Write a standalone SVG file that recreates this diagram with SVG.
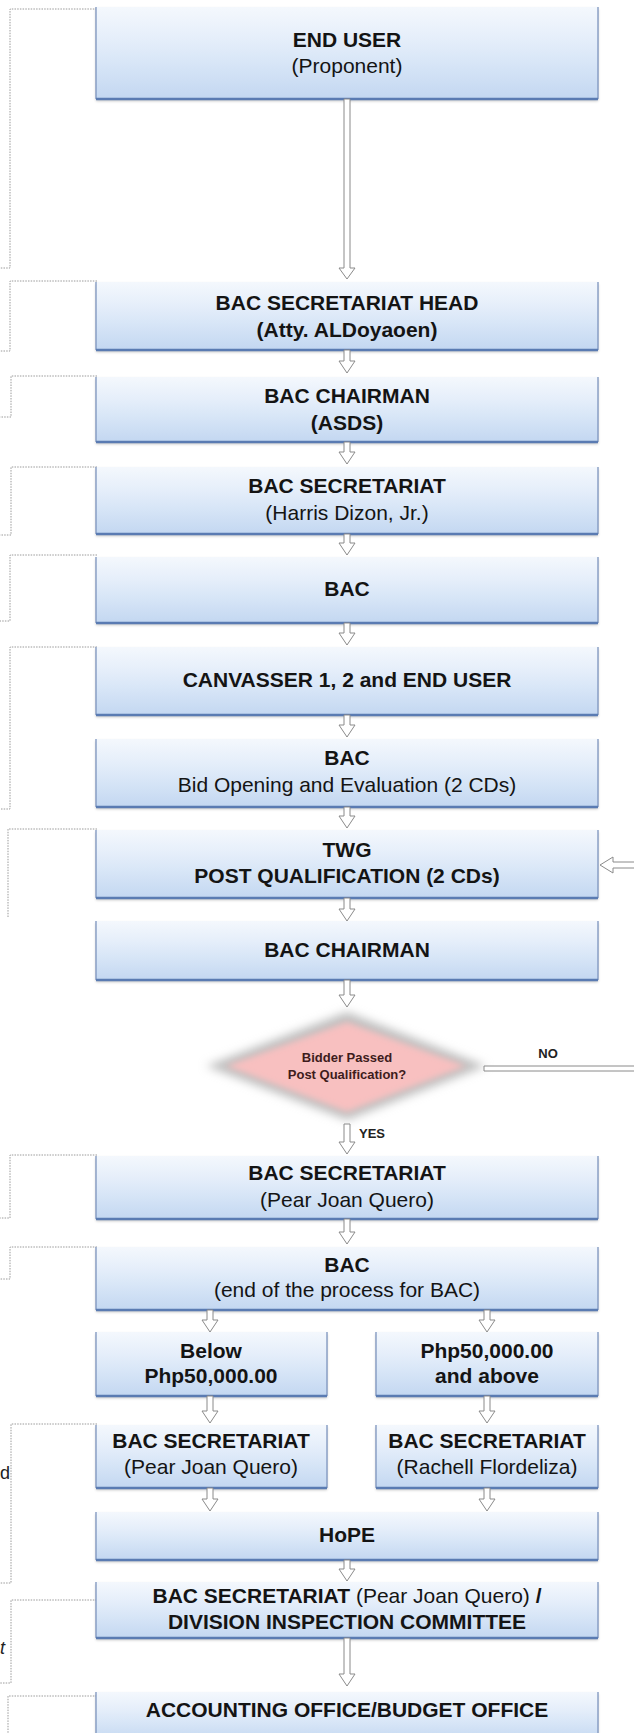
<svg xmlns="http://www.w3.org/2000/svg" width="634" height="1733" viewBox="0 0 634 1733">
<defs>
<linearGradient id="g" x1="0" y1="0" x2="0" y2="1">
<stop offset="0" stop-color="#f4f8fd"/>
<stop offset="0.35" stop-color="#e5eefa"/>
<stop offset="0.6" stop-color="#d8e6f7"/>
<stop offset="1" stop-color="#c3d7f1"/>
</linearGradient>
<filter id="sh" x="-5%" y="-10%" width="110%" height="130%">
<feGaussianBlur in="SourceAlpha" stdDeviation="1.5"/>
<feOffset dx="0" dy="2" result="b"/>
<feComponentTransfer><feFuncA type="linear" slope="0.25"/></feComponentTransfer>
<feMerge><feMergeNode/><feMergeNode in="SourceGraphic"/></feMerge>
</filter>
<filter id="blur5" x="-20%" y="-30%" width="140%" height="160%"><feGaussianBlur stdDeviation="5"/></filter>
<filter id="blur3" x="-20%" y="-30%" width="140%" height="160%"><feGaussianBlur stdDeviation="3"/></filter>
</defs>
<style>
.box{fill:url(#g);filter:url(#sh)}
.edge{fill:none;stroke:#7d95bf;stroke-width:1.3}
.bot{stroke:#5a7bb2;stroke-width:2.6}
.t{font-family:"Liberation Sans",Arial,sans-serif;font-size:21px;fill:#141414;text-anchor:middle}
.b{font-weight:bold}
.sm{font-family:"Liberation Sans",Arial,sans-serif;font-size:13px;font-weight:bold;text-anchor:middle}
.arr{fill:#ffffff;stroke:#8a8a8a;stroke-width:1}
.dot{fill:none;stroke:#9a9a9a;stroke-width:1;stroke-dasharray:1.5 1.2}
.side{font-family:"Liberation Sans",Arial,sans-serif;font-size:18px;fill:#222;text-anchor:start}
</style>

<g id="brackets">
<path class="dot" d="M97,9 H10 V268 H0"/>
<path class="dot" d="M97,281 H10 V351 H0"/>
<path class="dot" d="M97,376 H11 V417 H0"/>
<path class="dot" d="M97,467 H11 V535 H0"/>
<path class="dot" d="M97,555 H10 V621 H0"/>
<path class="dot" d="M97,647 H10 V809 H0"/>
<path class="dot" d="M97,829 H8 V918"/>
<path class="dot" d="M97,1155 H10 V1218 H0"/>
<path class="dot" d="M97,1247 H10 V1279 H0"/>
<path class="dot" d="M97,1424 H11 V1583 H0"/>
<path class="dot" d="M97,1600 H11 V1683 H0"/>
<path class="dot" d="M97,1696 H8 V1733"/>
<text class="side" x="0" y="1479">d</text>
<text class="side" x="0" y="1654" font-style="italic">t</text>
</g>

<g id="n1"><rect class="box" x="96" y="7" width="502" height="92"/><path class="edge" d="M96,7 V99 M598,7 V99"/><line class="bot" x1="96" y1="99" x2="598" y2="99"/>
<text class="t b" x="347" y="47">END USER</text><text class="t" x="347" y="73">(Proponent)</text></g>

<g id="n2"><rect class="box" x="96" y="282" width="502" height="68"/><path class="edge" d="M96,282 V350 M598,282 V350"/><line class="bot" x1="96" y1="350" x2="598" y2="350"/>
<text class="t b" x="347" y="310">BAC SECRETARIAT HEAD</text><text class="t b" x="347" y="337">(Atty. ALDoyaoen)</text></g>

<g id="n3"><rect class="box" x="96" y="377" width="502" height="65"/><path class="edge" d="M96,377 V442 M598,377 V442"/><line class="bot" x1="96" y1="442" x2="598" y2="442"/>
<text class="t b" x="347" y="403">BAC CHAIRMAN</text><text class="t b" x="347" y="430">(ASDS)</text></g>

<g id="n4"><rect class="box" x="96" y="467" width="502" height="67"/><path class="edge" d="M96,467 V534 M598,467 V534"/><line class="bot" x1="96" y1="534" x2="598" y2="534"/>
<text class="t b" x="347" y="493">BAC SECRETARIAT</text><text class="t" x="347" y="520">(Harris Dizon, Jr.)</text></g>

<g id="n5"><rect class="box" x="96" y="557" width="502" height="66"/><path class="edge" d="M96,557 V623 M598,557 V623"/><line class="bot" x1="96" y1="623" x2="598" y2="623"/>
<text class="t b" x="347" y="596">BAC</text></g>

<g id="n6"><rect class="box" x="96" y="647" width="502" height="68"/><path class="edge" d="M96,647 V715 M598,647 V715"/><line class="bot" x1="96" y1="715" x2="598" y2="715"/>
<text class="t b" x="347" y="687">CANVASSER 1, 2 and END USER</text></g>

<g id="n7"><rect class="box" x="96" y="739" width="502" height="68"/><path class="edge" d="M96,739 V807 M598,739 V807"/><line class="bot" x1="96" y1="807" x2="598" y2="807"/>
<text class="t b" x="347" y="765">BAC</text><text class="t" x="347" y="792">Bid Opening and Evaluation (2 CDs)</text></g>

<g id="n8"><rect class="box" x="96" y="830" width="502" height="68"/><path class="edge" d="M96,830 V898 M598,830 V898"/><line class="bot" x1="96" y1="898" x2="598" y2="898"/>
<text class="t b" x="347" y="857">TWG</text><text class="t b" x="347" y="883">POST QUALIFICATION (2 CDs)</text></g>

<g id="n9"><rect class="box" x="96" y="921" width="502" height="59"/><path class="edge" d="M96,921 V980 M598,921 V980"/><line class="bot" x1="96" y1="980" x2="598" y2="980"/>
<text class="t b" x="347" y="957">BAC CHAIRMAN</text></g>

<g id="n10">
<polygon points="347,1012 486,1066 347,1120 206,1066" fill="#bfbfbf" filter="url(#blur5)"/>
<polygon points="347,1022 466,1066 347,1112 226,1066" fill="#f8c0c0" filter="url(#blur3)"/>
<text class="sm" x="347" y="1062" fill="#3e1c1c">Bidder Passed</text>
<text class="sm" x="347" y="1079" fill="#3e1c1c">Post Qualification?</text>
</g>

<g id="n11"><rect class="box" x="96" y="1156" width="502" height="63"/><path class="edge" d="M96,1156 V1219 M598,1156 V1219"/><line class="bot" x1="96" y1="1219" x2="598" y2="1219"/>
<text class="t b" x="347" y="1180">BAC SECRETARIAT</text><text class="t" x="347" y="1207">(Pear Joan Quero)</text></g>

<g id="n12"><rect class="box" x="96" y="1247" width="502" height="63"/><path class="edge" d="M96,1247 V1310 M598,1247 V1310"/><line class="bot" x1="96" y1="1310" x2="598" y2="1310"/>
<text class="t b" x="347" y="1272">BAC</text><text class="t" x="347" y="1297">(end of the process for BAC)</text></g>

<g id="n13"><rect class="box" x="96" y="1332" width="231" height="64"/><path class="edge" d="M96,1332 V1396 M327,1332 V1396"/><line class="bot" x1="96" y1="1396" x2="327" y2="1396"/>
<text class="t b" x="211" y="1358">Below</text><text class="t b" x="211" y="1383">Php50,000.00</text></g>

<g id="n14"><rect class="box" x="376" y="1332" width="222" height="64"/><path class="edge" d="M376,1332 V1396 M598,1332 V1396"/><line class="bot" x1="376" y1="1396" x2="598" y2="1396"/>
<text class="t b" x="487" y="1358">Php50,000.00</text><text class="t b" x="487" y="1383">and above</text></g>

<g id="n15"><rect class="box" x="96" y="1425" width="231" height="63"/><path class="edge" d="M96,1425 V1488 M327,1425 V1488"/><line class="bot" x1="96" y1="1488" x2="327" y2="1488"/>
<text class="t b" x="211" y="1448">BAC SECRETARIAT</text><text class="t" x="211" y="1474">(Pear Joan Quero)</text></g>

<g id="n16"><rect class="box" x="376" y="1425" width="222" height="63"/><path class="edge" d="M376,1425 V1488 M598,1425 V1488"/><line class="bot" x1="376" y1="1488" x2="598" y2="1488"/>
<text class="t b" x="487" y="1448">BAC SECRETARIAT</text><text class="t" x="487" y="1474">(Rachell Flordeliza)</text></g>

<g id="n17"><rect class="box" x="96" y="1512" width="502" height="48"/><path class="edge" d="M96,1512 V1560 M598,1512 V1560"/><line class="bot" x1="96" y1="1560" x2="598" y2="1560"/>
<text class="t b" x="347" y="1542">HoPE</text></g>

<g id="n18"><rect class="box" x="96" y="1582" width="502" height="56"/><path class="edge" d="M96,1582 V1638 M598,1582 V1638"/><line class="bot" x1="96" y1="1638" x2="598" y2="1638"/>
<text class="t" x="347" y="1603"><tspan class="b">BAC SECRETARIAT</tspan> (Pear Joan Quero) <tspan class="b">/</tspan></text>
<text class="t b" x="347" y="1629">DIVISION INSPECTION COMMITTEE</text></g>

<g id="n19"><rect class="box" x="96" y="1692" width="502" height="50"/><path class="edge" d="M96,1692 V1742 M598,1692 V1742"/>
<text class="t b" x="347" y="1717">ACCOUNTING OFFICE/BUDGET OFFICE</text></g>

<g id="connectors">
<path class="arr" d="M344,99 V268 H339 L347,279 L355,268 H350 V99 Z"/>
<path class="arr" d="M344,350 V361 H339 L347,373 L355,361 H350 V350 Z"/>
<path class="arr" d="M344,442 V452 H339 L347,464 L355,452 H350 V442 Z"/>
<path class="arr" d="M344,534 V543 H339 L347,555 L355,543 H350 V534 Z"/>
<path class="arr" d="M344,623 V633 H339 L347,645 L355,633 H350 V623 Z"/>
<path class="arr" d="M344,715 V725 H339 L347,737 L355,725 H350 V715 Z"/>
<path class="arr" d="M344,807 V816 H339 L347,828 L355,816 H350 V807 Z"/>
<path class="arr" d="M344,898 V909 H339 L347,921 L355,909 H350 V898 Z"/>
<path class="arr" d="M344,980 V995 H339 L347,1007 L355,995 H350 V980 Z"/>
<path class="arr" d="M344,1124 V1142 H339 L347,1154 L355,1142 H350 V1124 Z"/>
<text class="sm" x="372" y="1138" fill="#222">YES</text>
<path class="arr" d="M344,1219 V1232 H339 L347,1244 L355,1232 H350 V1219 Z"/>
<path class="arr" d="M207,1310 V1320 H202 L210,1332 L218,1320 H213 V1310 Z"/>
<path class="arr" d="M484,1310 V1320 H479 L487,1332 L495,1320 H490 V1310 Z"/>
<path class="arr" d="M207,1396 V1411 H202 L210,1423 L218,1411 H213 V1396 Z"/>
<path class="arr" d="M484,1396 V1411 H479 L487,1423 L495,1411 H490 V1396 Z"/>
<path class="arr" d="M207,1488 V1499 H202 L210,1511 L218,1499 H213 V1488 Z"/>
<path class="arr" d="M484,1488 V1499 H479 L487,1511 L495,1499 H490 V1488 Z"/>
<path class="arr" d="M344,1560 V1569 H339 L347,1581 L355,1569 H350 V1560 Z"/>
<path class="arr" d="M344,1638 V1674 H339 L347,1686 L355,1674 H350 V1638 Z"/>
<path class="arr" d="M484,1066 H640 V1071 H484 Z"/>
<text class="sm" x="548" y="1058" fill="#222">NO</text>
<path class="arr" d="M640,862 H613 V857 L600,865 L613,873 V868 H640 Z"/>
</g>
</svg>
